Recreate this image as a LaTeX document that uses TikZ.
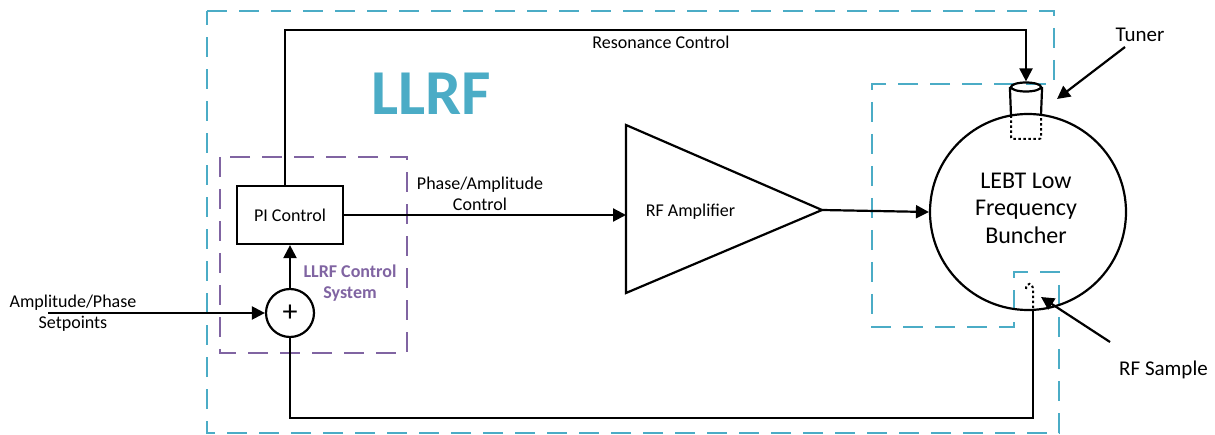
\documentclass[tikz,border=0pt]{standalone}
\usepackage{fontspec}
\setmainfont{Carlito}
\usetikzlibrary{arrows.meta,shapes.geometric}
\definecolor{llrfblue}{HTML}{4BACC6}
\definecolor{llrfpurple}{HTML}{8064A2}
\begin{document}
\begin{tikzpicture}[x=1pt,y=-1pt,
  wire/.style={line width=2.2pt,draw=black},
  arr/.style={wire,-{Triangle[length=13pt,width=13pt]}},
  bluedash/.style={draw=llrfblue,line width=2.7pt,dash pattern=on 20pt off 12pt},
  purpledash/.style={draw=llrfpurple,line width=2.7pt,dash pattern=on 20pt off 12pt},
  lbl/.style={font=\fontsize{18}{21}\selectfont,align=center,inner sep=0pt},
  biglbl/.style={font=\fontsize{21}{25}\selectfont,inner sep=0pt},
  purplelbl/.style={font=\bfseries\fontsize{18}{21}\selectfont,text=llrfpurple,align=center,inner sep=0pt},
  dotline/.style={line width=2pt,dash pattern=on 2.5pt off 2.5pt},
]
\useasboundingbox (0,0) rectangle (1215,435);

% LLRF boundary and control-system box
\draw[bluedash] (207,11) -- (1054,11) -- (1054,84) -- (872,84) -- (872,327) -- (1014,327)
  -- (1014,272) -- (1059,272) -- (1059,433) -- (207,433) -- cycle;
\draw[purpledash] (220,157) rectangle (407,353);

\node[font=\bfseries\fontsize{64}{70}\selectfont,text=llrfblue,anchor=base,inner sep=0pt] (llrf) at (431.5,115) {LLRF};

% blocks
\node[wire,rectangle,minimum width=106pt,minimum height=58pt,lbl] (pi) at (290,215) {PI Control};
\node[wire,circle,minimum size=48pt,inner sep=0pt,font=\fontsize{30}{30}\selectfont] (sum) at (290,313) {+};
\node[purplelbl] (ctrl) at (350,283.5) {LLRF Control\\System};

\coordinate (ampin) at (626,215);
\coordinate (ampout) at (822,210);
\draw[wire,line join=miter] (626,125) -- (ampout) -- (626,293) -- cycle;
\node[lbl,anchor=base] (amptext) at (690.5,217) {RF Amplifier};

\node[wire,circle,minimum size=196pt,inner sep=0pt] (cav) at (1028,212) {};
\node[font=\fontsize{24}{27.5}\selectfont,align=center,inner sep=0pt] (cavtext) at (1026,208) {LEBT Low\\Frequency\\Buncher};

% tuner
\node[wire,ellipse,minimum width=30pt,minimum height=9pt,inner sep=0pt] (tunercap) at (1026,87) {};
\coordinate (tl) at (1011,115.5);
\coordinate (tr) at (1041,115);
\draw[wire] (tunercap.west) -- (tl);
\draw[wire] (tunercap.east) -- (tr);
\draw[dotline,rounded corners=2pt] (tl) -- (1011,139) -- (1041,139) -- (tr);

% RF sample probe
\coordinate (probe) at (1033,310);
\draw[dotline] (1026,289) .. controls (1026,282) and (1033,282) .. (1033,290) -- (probe);

% labels
\node[lbl,anchor=base] (resctl) at (661,49) {Resonance Control};
\node[lbl] (phamp) at (480,194) {Phase/Amplitude\\Control};
\node[lbl] (setp) at (73,313) {Amplitude/Phase\\Setpoints};
\node[biglbl,anchor=base] (tuner) at (1140,42) {Tuner};
\node[biglbl,anchor=base] (rfs) at (1163.5,375) {RF Sample};

% connectors
\coordinate (spstart) at (48,313);
\draw[arr] (spstart) -- (sum.west);
\draw[arr] (sum.north) -- (pi.south);
\draw[arr] (pi.east) -- (ampin);
\draw[arr] (ampout) -- (cav.west);
\draw[arr] ([xshift=-5pt]pi.north) -- ++(0,-155) -| (tunercap.north);
\draw[wire] (probe) -- (1033,418) -| (sum.south);

\coordinate (tunerfrom) at (1125,47);
\coordinate (tunerto) at (1057,99);
\draw[arr] (tunerfrom) -- (tunerto);
\coordinate (rfsfrom) at (1110,342);
\coordinate (rfsto) at (1041,297);
\draw[arr] (rfsfrom) -- (rfsto);
\end{tikzpicture}
\end{document}
